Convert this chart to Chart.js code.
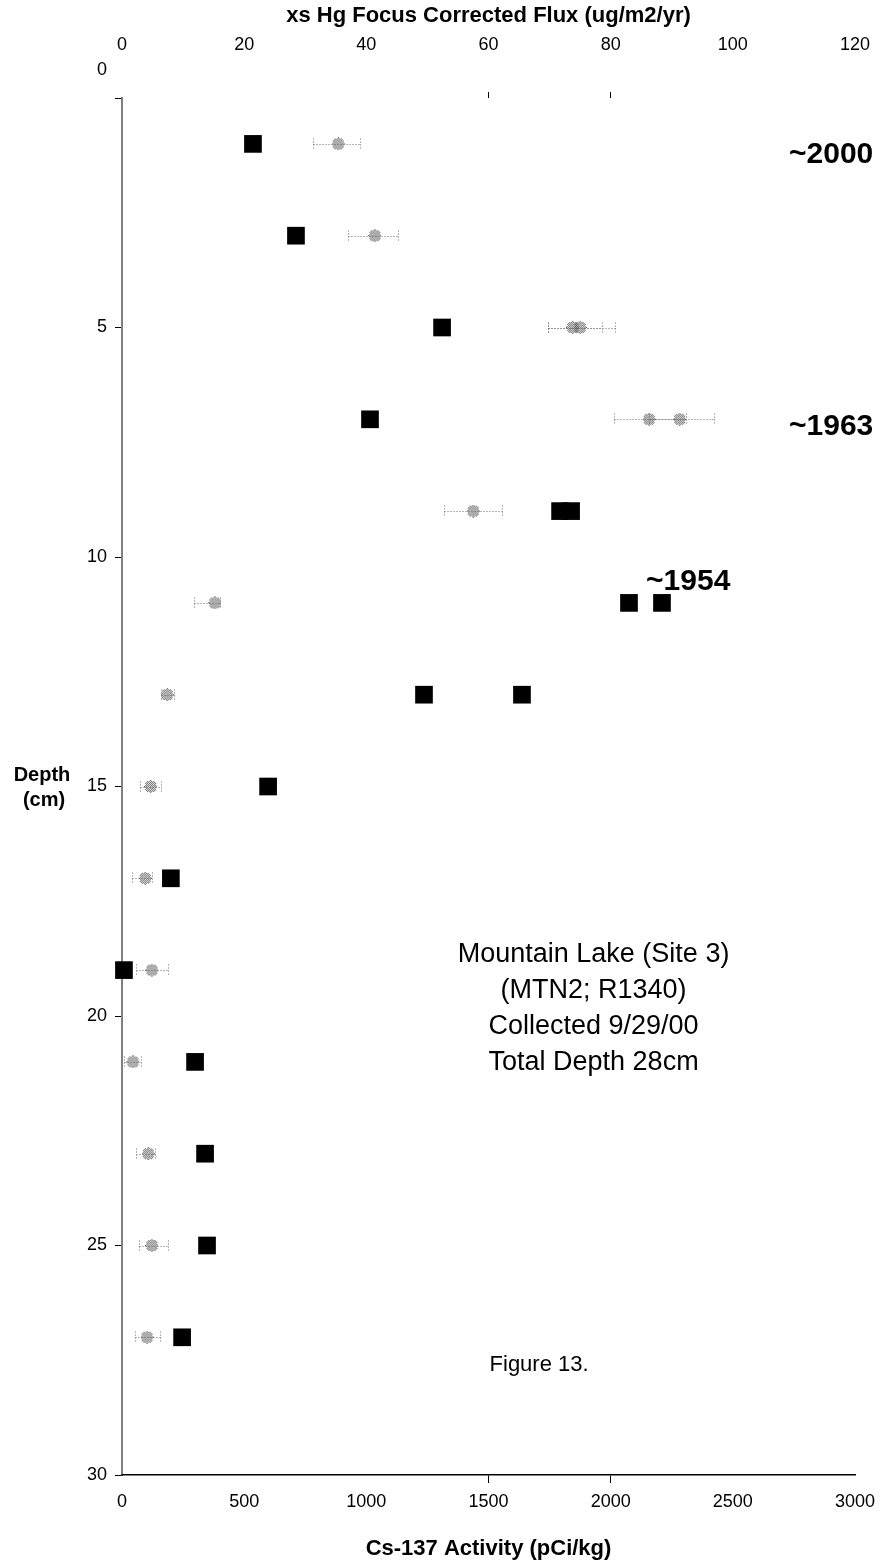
<!DOCTYPE html>
<html>
<head>
<meta charset="utf-8">
<script src="https://cdn.jsdelivr.net/npm/chart.js@4.4.1/dist/chart.umd.min.js"></script>
<style>
    body { margin: 0; background: #fff; }
    canvas { display: block; }
</style>
</head>
<body>
<canvas id="coreChart" width="883" height="1566"></canvas>
<script>
// Cs-137 activity (pCi/kg) by depth (cm), duplicates at 9, 11 and 13 cm
const csDepth = [1, 3, 5, 7, 9, 9, 11, 11, 13, 13, 15, 17, 19, 21, 23, 25, 27];
const csActivity = [536, 712, 1310, 1015, 1793, 1838, 2075, 2210, 1236, 1637, 598, 200, 8, 299, 340, 348, 246];

// xs Hg focus corrected flux (ug/m2/yr) with low/high error range
const hgDepth = [1, 3, 5, 5, 7, 7, 9, 11, 13, 15, 17, 19, 21, 23, 25, 27];
const hgFlux = [35.4, 41.4, 73.8, 75.0, 86.3, 91.3, 57.5, 15.2, 7.4, 4.7, 3.8, 4.9, 1.8, 4.3, 4.9, 4.1];
const hgLow = [31.3, 37.0, 69.7, 69.7, 80.5, 86.3, 52.7, 11.8, 6.4, 2.9, 1.6, 2.3, 0.3, 2.3, 2.8, 2.1];
const hgHigh = [39.0, 45.2, 78.6, 80.7, 92.3, 96.9, 62.2, 16.0, 8.5, 6.4, 4.9, 7.5, 3.1, 5.4, 7.5, 6.2];

// date markers, placed in Cs-137 / depth units
const dateLabels = ['~2000', '~1963', '~1954'];
const dateActivity = [2730, 2730, 2145];
const dateDepth = [1.24, 7.17, 10.54];

const siteInfo = ['Mountain Lake (Site 3)', '(MTN2; R1340)', 'Collected 9/29/00', 'Total Depth 28cm'];

const FONT = "'Liberation Sans', Arial, sans-serif";

// small dotted disc used for the Hg points
const hgMarker = (() => {
    const c = document.createElement('canvas');
    c.width = 13;
    c.height = 13;
    const g = c.getContext('2d');
    g.fillStyle = '#5a5a5a';
    for (let i = 0; i < 13; i++) {
        for (let j = 0; j < 13; j++) {
            const dx = i - 6, dy = j - 6;
            if (dx * dx + dy * dy <= 36 && (i + j) % 2 === 0) g.fillRect(i, j, 1, 1);
        }
    }
    return c;
})();

const errorBars = {
    id: 'errorBars',
    beforeDatasetsDraw(chart) {
        const {ctx, scales: {x2, y}} = chart;
        ctx.save();
        ctx.strokeStyle = '#6e6e6e';
        ctx.lineWidth = 1;
        ctx.setLineDash([1, 2]);
        hgDepth.forEach((d, i) => {
            const py = Math.round(y.getPixelForValue(d)) + 0.5;
            const lo = Math.round(x2.getPixelForValue(hgLow[i])) + 0.5;
            const hi = Math.round(x2.getPixelForValue(hgHigh[i])) + 0.5;
            ctx.beginPath();
            ctx.moveTo(lo, py);
            ctx.lineTo(hi, py);
            ctx.moveTo(lo, py - 6);
            ctx.lineTo(lo, py + 6);
            ctx.moveTo(hi, py - 6);
            ctx.lineTo(hi, py + 6);
            ctx.stroke();
        });
        ctx.restore();
    }
};

const chartText = {
    id: 'chartText',
    afterDraw(chart) {
        const {ctx, scales: {x, y}} = chart;
        ctx.save();
        ctx.fillStyle = '#000';
        ctx.textBaseline = 'middle';

        // the zero of the depth axis sits above the top axis line
        ctx.font = `18px ${FONT}`;
        ctx.textAlign = 'right';
        ctx.fillText('0', 107, y.getPixelForValue(0) - 28);

        ctx.font = `bold 20px ${FONT}`;
        ctx.textAlign = 'center';
        ctx.fillText('Depth', 42, 775);
        ctx.fillText('(cm)', 44, 800);

        ctx.font = `bold 30px ${FONT}`;
        ctx.textAlign = 'left';
        dateLabels.forEach((t, i) => {
            ctx.fillText(t, x.getPixelForValue(dateActivity[i]), y.getPixelForValue(dateDepth[i]));
        });

        ctx.font = `27px ${FONT}`;
        ctx.textAlign = 'center';
        siteInfo.forEach((t, i) => {
            ctx.fillText(t, x.getPixelForValue(1930), y.getPixelForValue(18.67) + i * 36);
        });

        ctx.font = `22px ${FONT}`;
        ctx.fillText('Figure 13.', x.getPixelForValue(1707), y.getPixelForValue(27.6));
        ctx.restore();
    }
};

const onlyTicks = (values) => (ctx) =>
    ctx.tick && values.includes(ctx.tick.value) ? '#000' : 'rgba(0,0,0,0)';

// keep the end labels from shrinking the plot sideways
const noSidePadding = (scale) => {
    scale.paddingLeft = 0;
    scale.paddingRight = 0;
};

new Chart(document.getElementById('coreChart').getContext('2d'), {
    type: 'scatter',
    data: {
        datasets: [{
            label: 'Cs-137 Activity',
            data: csDepth.map((d, i) => ({x: csActivity[i], y: d})),
            xAxisID: 'x',
            yAxisID: 'y',
            pointStyle: 'rect',
            pointRadius: 12.5,
            backgroundColor: '#000',
            borderWidth: 0,
            clip: false
        }, {
            label: 'xs Hg Flux',
            data: hgDepth.map((d, i) => ({x: hgFlux[i], y: d})),
            xAxisID: 'x2',
            yAxisID: 'y',
            pointStyle: hgMarker,
            clip: false
        }]
    },
    options: {
        responsive: false,
        devicePixelRatio: 1,
        animation: false,
        layout: {padding: {left: 0, right: 28, top: 0, bottom: 0}},
        plugins: {
            legend: {display: false},
            tooltip: {enabled: false}
        },
        scales: {
            y: {
                reverse: true,
                min: 0,
                max: 30,
                ticks: {
                    stepSize: 5,
                    padding: 8,
                    color: '#000',
                    font: {family: FONT, size: 18},
                    callback: (v) => v === 0 ? '' : v
                },
                grid: {drawOnChartArea: false, tickLength: 7, color: '#000'},
                border: {color: '#808080', width: 2},
                afterFit: (scale) => { scale.width = 122; }
            },
            x: {
                position: 'bottom',
                min: 0,
                max: 3000,
                ticks: {
                    stepSize: 500,
                    padding: 8,
                    color: '#000',
                    maxRotation: 0,
                    font: {family: FONT, size: 18},
                    callback: (v) => String(v)
                },
                grid: {drawOnChartArea: false, tickLength: 8, color: onlyTicks([1500, 2000])},
                border: {color: '#000', width: 1.5},
                title: {
                    display: true,
                    text: 'Cs-137 Activity (pCi/kg)',
                    color: '#000',
                    font: {family: FONT, size: 22, weight: 'bold'},
                    padding: {top: 0, bottom: 4}
                },
                afterFit: (scale) => {
                    scale.height = 91;
                    noSidePadding(scale);
                }
            },
            x2: {
                position: 'top',
                min: 0,
                max: 120,
                ticks: {
                    stepSize: 20,
                    padding: 36,
                    color: '#000',
                    maxRotation: 0,
                    font: {family: FONT, size: 18},
                    callback: (v) => String(v)
                },
                grid: {drawOnChartArea: false, tickLength: 6, color: onlyTicks([60, 80])},
                border: {display: false},
                title: {
                    display: true,
                    text: 'xs Hg Focus Corrected Flux (ug/m2/yr)',
                    color: '#000',
                    font: {family: FONT, size: 22, weight: 'bold'},
                    padding: {top: 3, bottom: 0}
                },
                afterFit: (scale) => {
                    scale.height = 98;
                    noSidePadding(scale);
                }
            }
        }
    },
    plugins: [errorBars, chartText]
});
</script>
</body>
</html>
